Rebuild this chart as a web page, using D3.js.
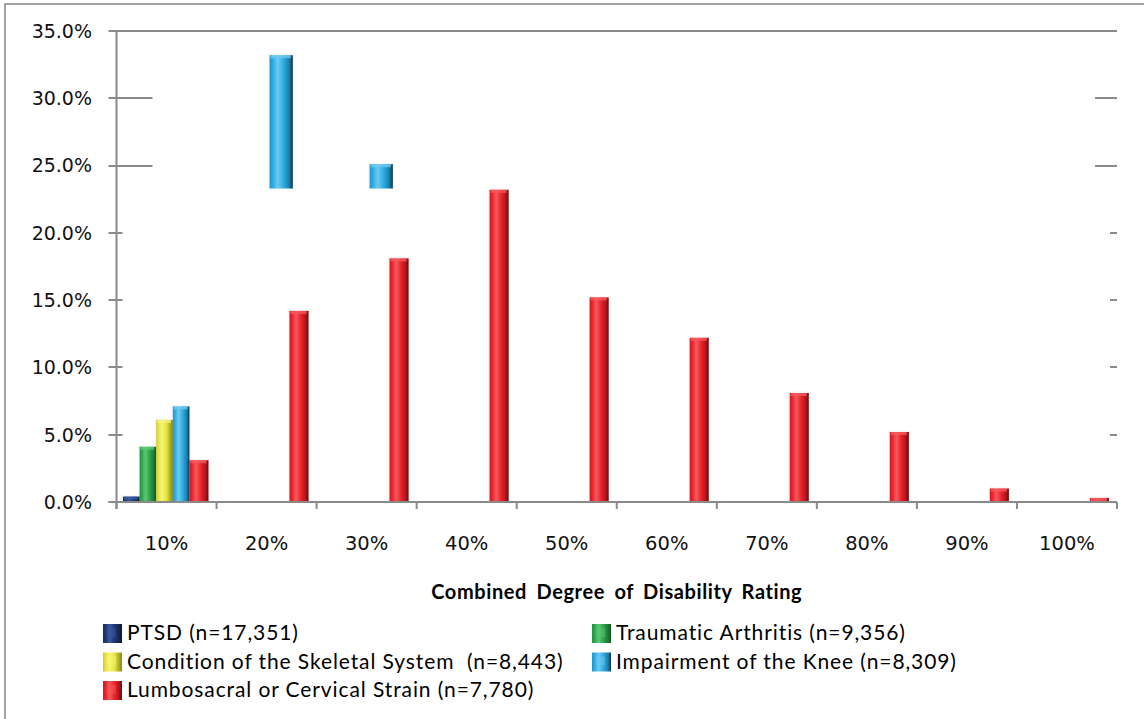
<!DOCTYPE html>
<html>
<head>
<meta charset="utf-8">
<script src="https://cdn.jsdelivr.net/npm/d3@7"></script>
<style>
  html, body { margin: 0; padding: 0; background: #fff; }
  svg { display: block; }
</style>
</head>
<body>
<svg id="chart" width="1144" height="719"></svg>
<script>
// Combined degree of disability rating, share of veterans per rating (%)
const categories = ["10%", "20%", "30%", "40%", "50%", "60%", "70%", "80%", "90%", "100%"];
const seriesNames = [
  "PTSD (n=17,351)",
  "Traumatic Arthritis (n=9,356)",
  "Condition of the Skeletal System  (n=8,443)",
  "Impairment of the Knee (n=8,309)",
  "Lumbosacral or Cervical Strain (n=7,780)"
];
const ptsd        = [0.4, null, null, null, null, null, null, null, null, null];
const arthritis   = [4.1, null, null, null, null, null, null, null, null, null];
const skeletal    = [6.1, null, null, null, null, null, null, null, null, null];
const knee        = [7.1, 33.2, 25.1, null, null, null, null, null, null, null];
const strain      = [3.1, 14.2, 18.1, 23.2, 15.2, 12.2, 8.1, 5.2, 1.0, 0.3];
const yTicks      = [0, 5, 10, 15, 20, 25, 30, 35];
// the lower panel of the plot is an inset; tall knee bars show only above it
const insetTop    = 23.3;

const seriesValues = [ptsd, arthritis, skeletal, knee, strain];
const palette = [
  { base: "#1d3570", light: "#3a5aa0", dark: "#0a1530" },
  { base: "#2aa24c", light: "#5cc870", dark: "#0f5a22" },
  { base: "#e6e33a", light: "#f6f47a", dark: "#8a8a10" },
  { base: "#27a9e1", light: "#6fcaf0", dark: "#0a3550" },
  { base: "#ea1f27", light: "#f25a5f", dark: "#6a0a0c" }
];

const svg = d3.select("#chart");
const W = 1144, H = 719;
const plot = { left: 116.5, right: 1117, top: 31, bottom: 502 };

// outer frame
svg.append("rect")
  .attr("x", 5).attr("y", 4)
  .attr("width", W + 10).attr("height", H - 3)
  .attr("fill", "#fff").attr("stroke", "#8c8c8c").attr("stroke-width", 1.6);

const y = d3.scaleLinear().domain([0, 35]).range([plot.bottom, plot.top]);
const x0 = d3.scaleBand().domain(categories).range([plot.left, plot.right]).padding(0);
const bw = x0.bandwidth();
const x1 = d3.scaleBand().domain(d3.range(seriesNames.length))
  .range([bw * 0.065, bw * 0.895]).padding(0);

// gradients giving the bars a rounded, glossy look
const defs = svg.append("defs");
palette.forEach((c, i) => {
  const g = defs.append("linearGradient").attr("id", "grad" + i)
    .attr("x1", "0%").attr("x2", "100%").attr("y1", "0%").attr("y2", "0%");
  g.append("stop").attr("offset", "0%").attr("stop-color", d3.color(c.base).darker(0.35));
  g.append("stop").attr("offset", "12%").attr("stop-color", c.base);
  g.append("stop").attr("offset", "35%").attr("stop-color", c.light);
  g.append("stop").attr("offset", "62%").attr("stop-color", c.base);
  g.append("stop").attr("offset", "84%").attr("stop-color", d3.color(c.base).darker(0.8));
  g.append("stop").attr("offset", "100%").attr("stop-color", c.dark);
});
defs.append("clipPath").attr("id", "aboveInset")
  .append("rect")
  .attr("x", 0).attr("y", 0)
  .attr("width", W).attr("height", y(insetTop));

const gridColor = "#8a8a8a";

// gridlines; the middle of the plot is blank apart from the top line
const grid = svg.append("g").attr("stroke", gridColor).attr("stroke-width", 2);
yTicks.forEach(v => {
  const yy = Math.round(y(v));
  if (v === 35 || v === 0) {
    grid.append("line").attr("x1", plot.left - 8).attr("x2", plot.right)
      .attr("y1", yy).attr("y2", yy);
    return;
  }
  const reach = v > insetTop ? 36 : 6;
  const reachR = v > insetTop ? 22 : 7;
  grid.append("line").attr("x1", plot.left - 8).attr("x2", plot.left + reach)
    .attr("y1", yy).attr("y2", yy);
  grid.append("line").attr("x1", plot.right - reachR).attr("x2", plot.right)
    .attr("y1", yy).attr("y2", yy);
});

// vertical axis line
svg.append("line")
  .attr("x1", plot.left).attr("x2", plot.left)
  .attr("y1", plot.top).attr("y2", plot.bottom + 7)
  .attr("stroke", gridColor).attr("stroke-width", 2);

// category tick marks below the baseline
svg.append("g").selectAll("line")
  .data(categories.concat(["end"]))
  .join("line")
  .attr("x1", (d, i) => i < categories.length ? x0(d) : plot.right)
  .attr("x2", (d, i) => i < categories.length ? x0(d) : plot.right)
  .attr("y1", plot.bottom).attr("y2", plot.bottom + 7)
  .attr("stroke", gridColor).attr("stroke-width", 2);

// bars
const bars = [];
seriesValues.forEach((vals, s) => {
  vals.forEach((v, c) => {
    if (v == null) return;
    bars.push({ s, c, v, tall: v > insetTop && c > 0 });
  });
});

const barG = svg.append("g");
bars.forEach(b => {
  const slot = x1.bandwidth();
  // strain bars carry a wider dark edge; the tall segments above the inset are wider still
  const w = b.tall ? slot * 1.4 : (b.s === 4 ? slot * 1.15 : slot);
  const bx = x0(categories[b.c]) + x1(b.s) + (slot - w) / 2 + (b.s === 4 ? 1.2 : 0);
  const top = y(b.v);
  const g = barG.append("g");
  if (b.tall) g.attr("clip-path", "url(#aboveInset)");
  // soft halo
  g.append("rect")
    .attr("x", bx - 1.5).attr("y", top - 1.5)
    .attr("width", w + 3).attr("height", plot.bottom - top + 1.5)
    .attr("fill", "#000").attr("opacity", 0.04);
  g.append("rect")
    .attr("x", bx).attr("y", top)
    .attr("width", w).attr("height", plot.bottom - top)
    .attr("fill", `url(#grad${b.s})`);
  // lighter cap
  g.append("rect")
    .attr("x", bx + 1).attr("y", top)
    .attr("width", w - 3).attr("height", Math.min(3, plot.bottom - top))
    .attr("fill", palette[b.s].light).attr("opacity", 0.8);
});

// baseline drawn over bar feet
svg.append("line")
  .attr("x1", plot.left - 8).attr("x2", plot.right)
  .attr("y1", plot.bottom).attr("y2", plot.bottom)
  .attr("stroke", gridColor).attr("stroke-width", 2);

// y labels
svg.append("g").selectAll("text")
  .data(yTicks)
  .join("text")
  .attr("x", 92).attr("y", d => y(d))
  .attr("dy", "0.36em")
  .attr("text-anchor", "end")
  .attr("font-family", "DejaVu Sans, Verdana, sans-serif")
  .attr("font-size", 19)
  .attr("fill", "#111")
  .text(d => d.toFixed(1) + "%");

// x labels
svg.append("g").selectAll("text")
  .data(categories)
  .join("text")
  .attr("x", d => x0(d) + bw / 2).attr("y", 550)
  .attr("text-anchor", "middle")
  .attr("font-family", "DejaVu Sans, Verdana, sans-serif")
  .attr("font-size", 19.5)
  .attr("fill", "#111")
  .text(d => d);

// axis title
svg.append("text")
  .attr("x", (plot.left + plot.right) / 2).attr("y", 599)
  .attr("text-anchor", "middle")
  .attr("font-family", "Lato, sans-serif")
  .attr("font-weight", "bold")
  .attr("font-size", 20)
  .attr("letter-spacing", 0.6)
  .attr("word-spacing", 4)
  .attr("fill", "#000")
  .text("Combined Degree of Disability Rating");

// legend: two columns, filled row by row
const legendCols = [103, 592];
const legendRow0 = 633, legendStep = 28.5;
const legend = svg.append("g");
seriesNames.forEach((name, i) => {
  const col = i % 2, row = Math.floor(i / 2);
  const lx = legendCols[col], ly = legendRow0 + row * legendStep;
  legend.append("rect")
    .attr("x", lx).attr("y", ly - 9)
    .attr("width", 19).attr("height", 19)
    .attr("fill", `url(#grad${i})`);
  legend.append("rect")
    .attr("x", lx + 4).attr("y", ly - 5)
    .attr("width", 9).attr("height", 9)
    .attr("fill", palette[i].light).attr("opacity", 0.45);
  legend.append("text")
    .attr("x", lx + 24).attr("y", ly)
    .attr("dy", "0.35em")
    .attr("font-family", "Lato, sans-serif")
    .attr("font-size", 21)
    .attr("letter-spacing", 0.9)
    .attr("fill", "#000")
    .style("white-space", "pre")
    .text(name);
});
</script>
</body>
</html>
